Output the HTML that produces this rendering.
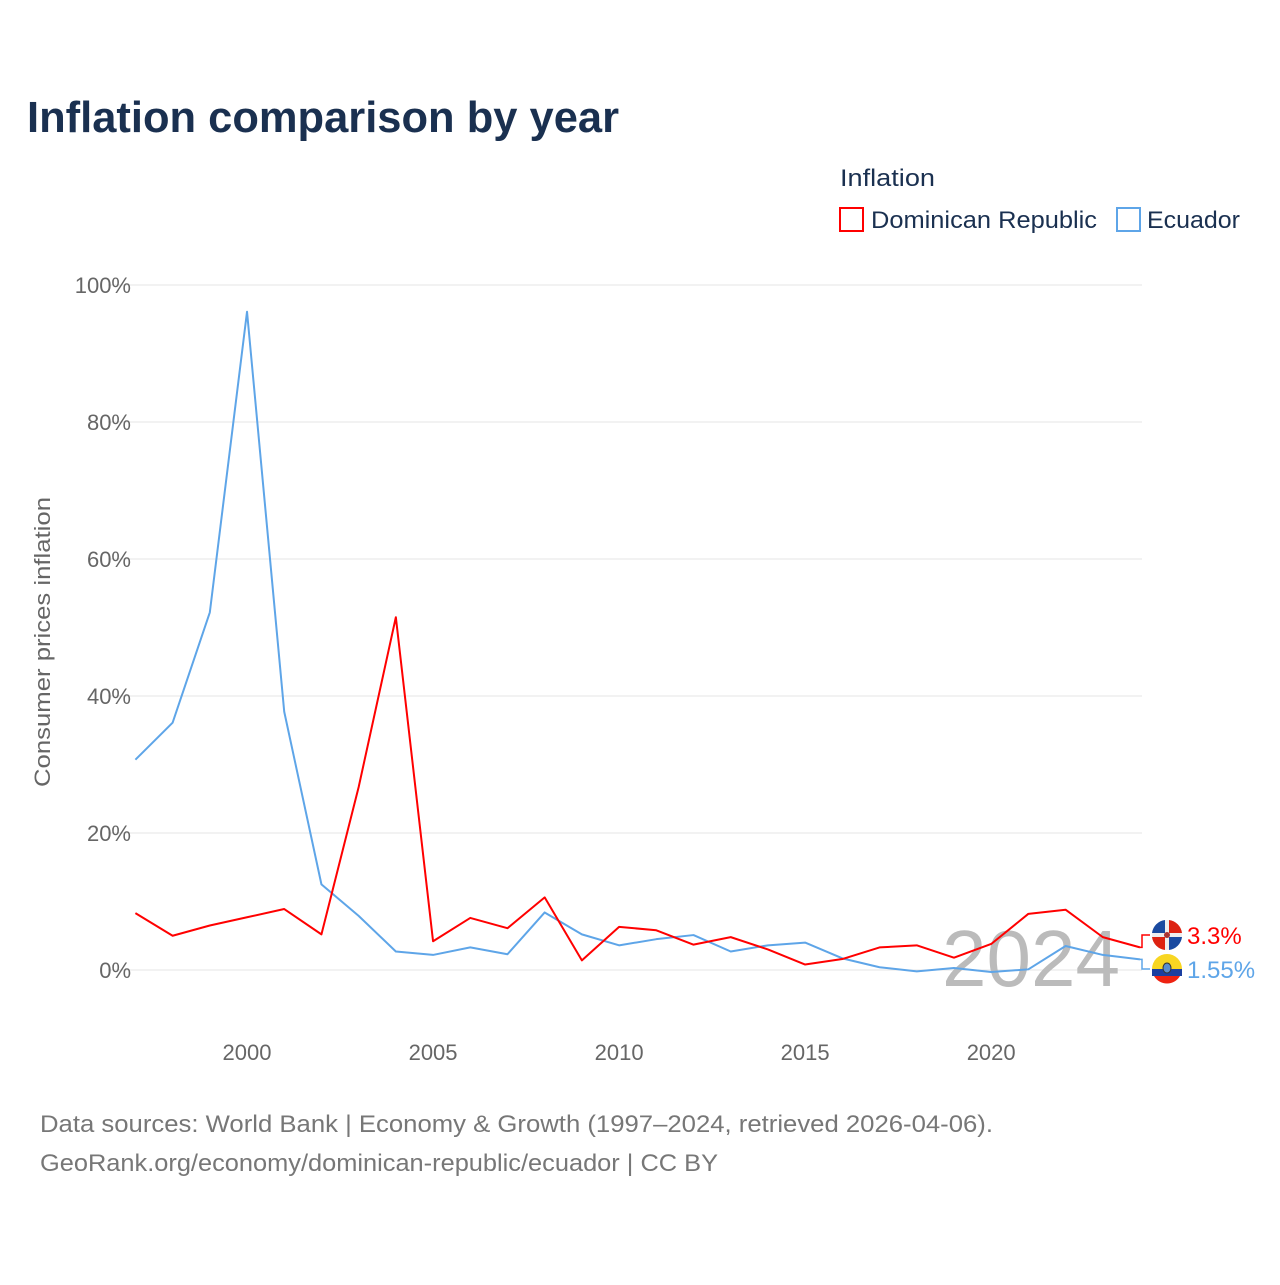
<!DOCTYPE html>
<html><head><meta charset="utf-8"><style>
body{margin:0;background:#fff;font-family:"Liberation Sans",sans-serif}
svg text{font-family:"Liberation Sans",sans-serif}
</style></head><body>
<svg width="1280" height="1280" viewBox="0 0 1280 1280">
<text x="27" y="132" font-size="44" font-weight="bold" fill="#1a3050" textLength="592" lengthAdjust="spacingAndGlyphs">Inflation comparison by year</text>
<text x="840" y="186" font-size="24" fill="#1a3050" textLength="95" lengthAdjust="spacingAndGlyphs">Inflation</text>
<g><rect x="840" y="208" width="23" height="23" fill="none" stroke="#f00" stroke-width="2"/><text x="871" y="228" font-size="24" fill="#1a3050" textLength="226" lengthAdjust="spacingAndGlyphs">Dominican Republic</text></g>
<g><rect x="1117" y="208" width="23" height="23" fill="none" stroke="#5ea5e8" stroke-width="2"/><text x="1147" y="228" font-size="24" fill="#1a3050" textLength="93" lengthAdjust="spacingAndGlyphs">Ecuador</text></g>
<text transform="translate(50,642) rotate(-90)" text-anchor="middle" font-size="22" fill="#666" textLength="290" lengthAdjust="spacingAndGlyphs">Consumer prices inflation</text>
<g id="grid"></g><g id="ticks"></g>
<text x="1120" y="986" text-anchor="end" font-size="80" fill="#bbb">2024</text>
<g id="lines"></g>
<text x="40" y="1132" font-size="24" fill="#777" textLength="953" lengthAdjust="spacingAndGlyphs">Data sources: World Bank | Economy &amp; Growth (1997–2024, retrieved 2026-04-06).</text>
<text x="40" y="1171" font-size="24" fill="#777" textLength="678" lengthAdjust="spacingAndGlyphs">GeoRank.org/economy/dominican-republic/ecuador | CC BY</text>
</svg>
<script>
const years=[1997,1998,1999,2000,2001,2002,2003,2004,2005,2006,2007,2008,2009,2010,2011,2012,2013,2014,2015,2016,2017,2018,2019,2020,2021,2022,2023,2024];
const domRep=[8.3,5.0,6.5,7.7,8.9,5.2,26.7,51.5,4.2,7.6,6.1,10.6,1.4,6.3,5.8,3.7,4.8,3.0,0.8,1.6,3.3,3.6,1.8,3.8,8.2,8.8,4.8,3.3];
const ecuador=[30.7,36.1,52.2,96.1,37.7,12.5,7.9,2.7,2.2,3.3,2.3,8.4,5.2,3.6,4.5,5.1,2.7,3.6,4.0,1.7,0.4,-0.2,0.3,-0.3,0.1,3.5,2.2,1.55];
const yTicks=[0,20,40,60,80,100];
const xTicks=[2000,2005,2010,2015,2020];
const NS="http://www.w3.org/2000/svg";
const x=v=>135.4+(v-1997)*(1140-135.4)/27;
const y=v=>970-v*6.85;
function mk(t,a,p){const e=document.createElementNS(NS,t);for(const k in a)e.setAttribute(k,a[k]);p.appendChild(e);return e;}
const grid=document.getElementById('grid'),ticks=document.getElementById('ticks'),lines=document.getElementById('lines');
yTicks.forEach(t=>{
const l=mk('line',{x1:108,x2:1142,y1:y(t),y2:y(t),stroke:'#e6e6e6','stroke-width':1},grid);


const tx=mk('text',{x:131,y:y(t)+8,'text-anchor':'end','font-size':22,fill:'#666'},ticks);tx.textContent=t+'%';


});
xTicks.forEach(t=>{
const tx=mk('text',{x:x(t),y:1060,'text-anchor':'middle','font-size':22,fill:'#666'},ticks);tx.textContent=t;


});
function series(vals,color,name){
const p=mk('polyline',{points:vals.map((v,i)=>x(years[i])+','+y(v)).join(' '),fill:'none',stroke:color,'stroke-width':2,'stroke-linejoin':'round'},lines);


}
series(ecuador,'#5ea5e8','line-ecuador');
series(domRep,'#f00','line-dominican-republic');
function endLabel(v,ly,color,txt,name,flag){
const ex=x(2024),ey=y(v);
mk('polyline',{points:`${ex},${ey} ${ex+2},${ey} ${ex+2},${ly} ${ex+10},${ly}`,fill:'none',stroke:color,'stroke-width':1.5},lines);
const g=mk('g',{},lines);


flag(g,ex+27,ly);
const t=mk('text',{x:ex+47,y:ly+9,'font-size':24,fill:color},lines);t.textContent=txt;


}
endLabel(domRep[27],935,'#f00','3.3%','dominican-republic',(g,cx,cy)=>{
mk('circle',{cx,cy,r:15,fill:'#eee'},g);
mk('path',{d:`M${cx-15},${cy-2} A15,15 0 0 1 ${cx-2},${cy-15} L${cx-2},${cy-2}Z`,fill:'#1a4aa0'},g);
mk('path',{d:`M${cx+2},${cy+2} L${cx+15},${cy+2} A15,15 0 0 1 ${cx+2},${cy+15}Z`,fill:'#1a4aa0'},g);
mk('path',{d:`M${cx+2},${cy-15} A15,15 0 0 1 ${cx+15},${cy-2} L${cx+2},${cy-2}Z`,fill:'#d21'},g);
mk('path',{d:`M${cx-15},${cy+2} L${cx-2},${cy+2} L${cx-2},${cy+15} A15,15 0 0 1 ${cx-15},${cy+2}Z`,fill:'#d21'},g);
mk('circle',{cx,cy,r:3,fill:'#a33'},g);
});
endLabel(ecuador[27],969,'#5ea5e8','1.55%','ecuador',(g,cx,cy)=>{
mk('path',{d:`M${cx-15},${cy} A15,15 0 0 1 ${cx+15},${cy}Z`,fill:'#f8d622'},g);
mk('rect',{x:cx-15,y:cy,width:30,height:7,fill:'#1b3fa0'},g);
mk('path',{d:`M${cx-13},${cy+7} L${cx+13},${cy+7} A15,15 0 0 1 ${cx-13},${cy+7}Z`,fill:'#e21'},g);
mk('ellipse',{cx,cy:cy-1,rx:4,ry:5,fill:'#5a8fd0',stroke:'#333','stroke-width':1},g);
});
</script>
</body></html>
